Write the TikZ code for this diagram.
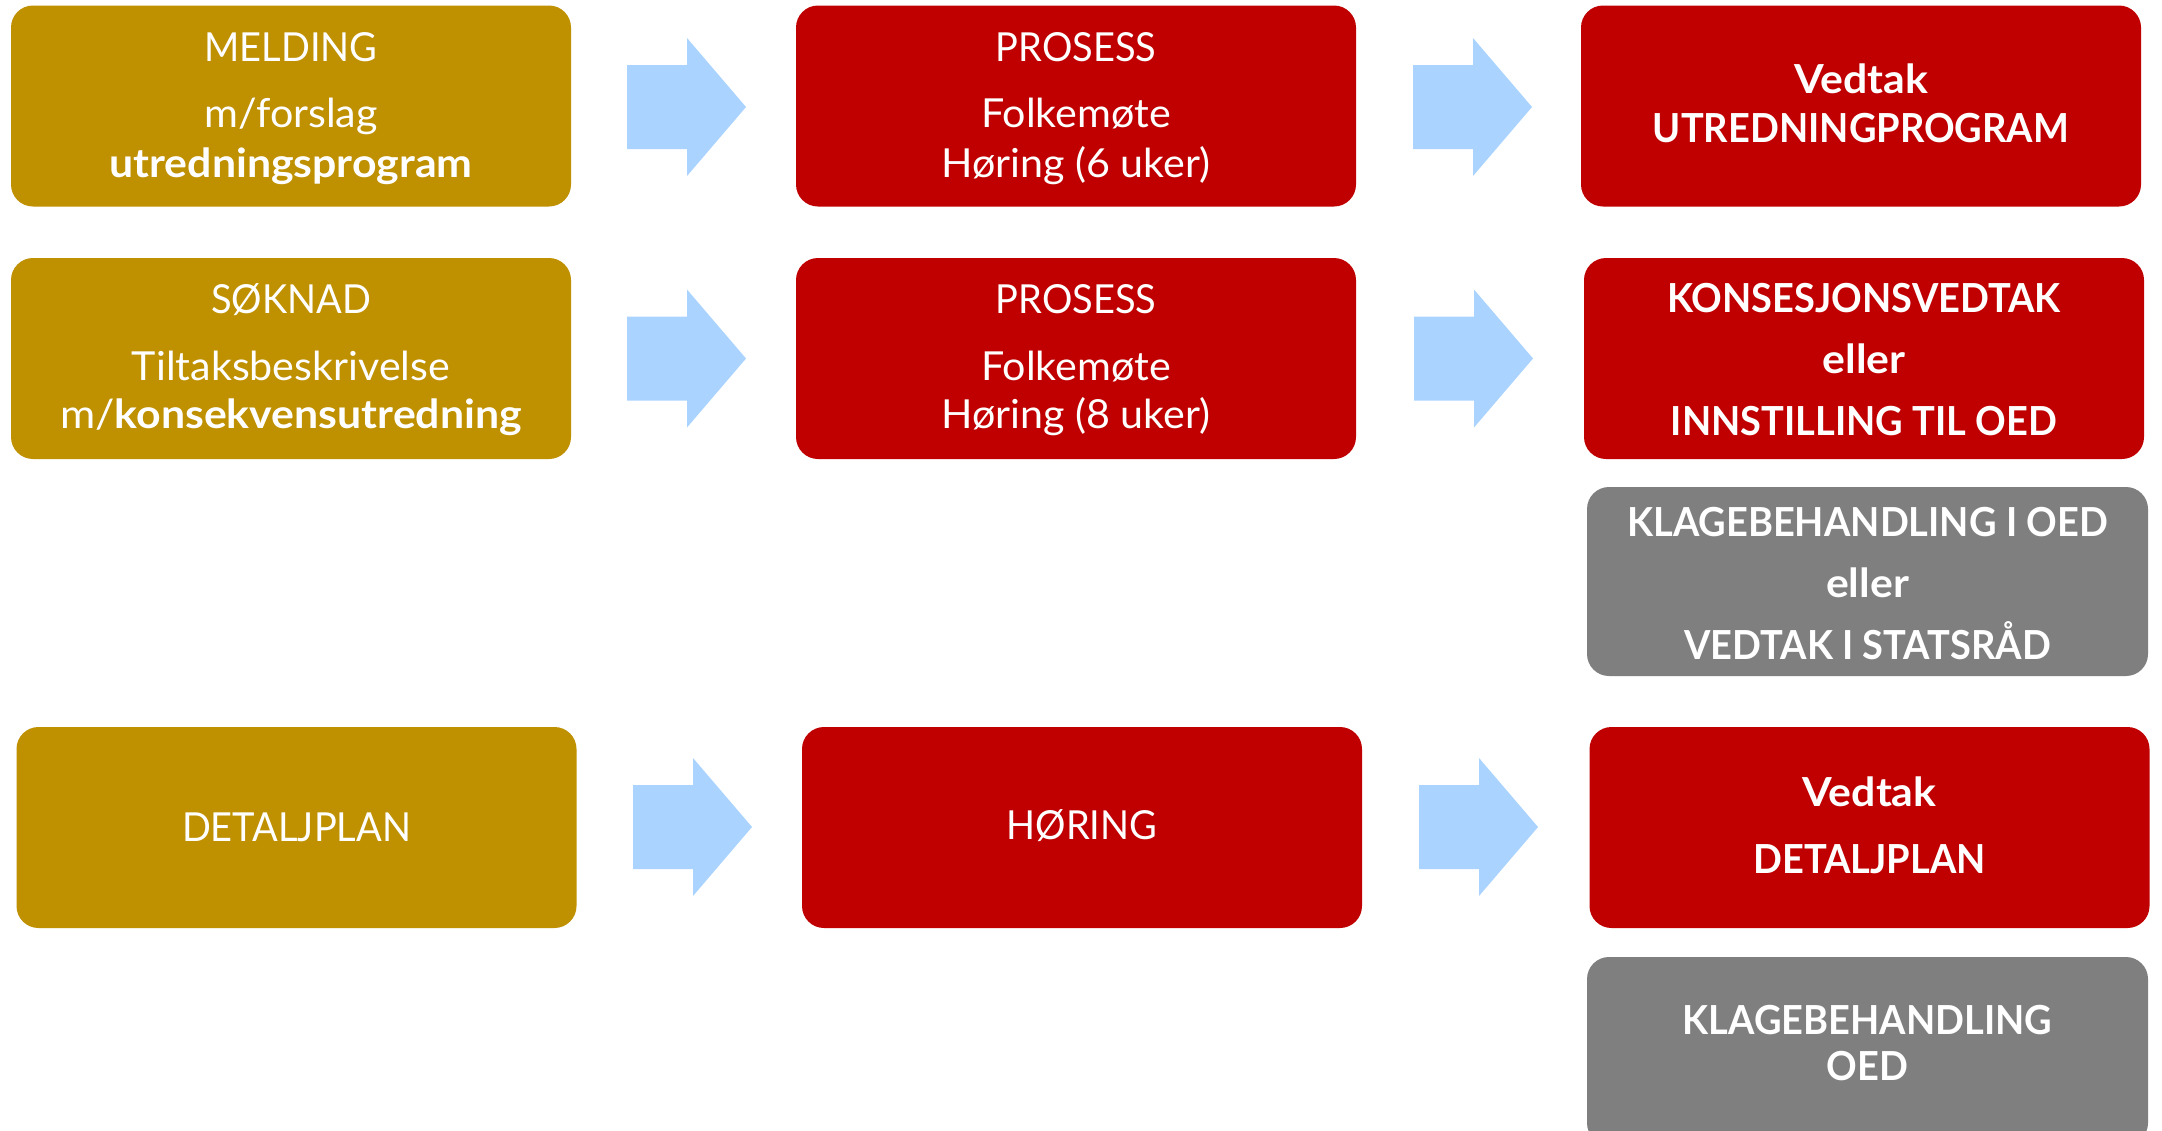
\documentclass[tikz,border=0pt]{standalone}
\usepackage{fontspec}
\setmainfont{Lato}
\newfontfamily\capsfont{Lato}[FakeStretch=0.95]
\newfontfamily\widefont{Lato}[FakeStretch=1.07]
\newfontfamily\midfont{Lato}[FakeStretch=1.03]
\usetikzlibrary{calc}
\definecolor{gold}{RGB}{191,144,0}
\definecolor{dred}{RGB}{192,0,0}
\definecolor{gbox}{RGB}{127,127,127}
\definecolor{lblue}{RGB}{170,212,255}
\tikzset{
  stagebox/.style={rounded corners=11pt, minimum width=280pt, minimum height=100.5pt, inner sep=0pt, draw=none},
  goldbox/.style={stagebox, fill=gold},
  redbox/.style={stagebox, fill=dred},
  greybox/.style={stagebox, fill=gbox, minimum width=280.5pt},
  regtxt/.style={text=white, font=\fontsize{20}{24}\selectfont\midfont, anchor=base, inner sep=0pt},
  captxt/.style={regtxt, font=\fontsize{20}{24}\selectfont\capsfont},
  bldtxt/.style={regtxt, font=\fontsize{20}{24}\selectfont\capsfont\bfseries},
  bldlow/.style={regtxt, font=\fontsize{20}{24}\selectfont\widefont\bfseries},
  pics/blockarrow/.style={code={\fill[lblue] (0,-42) -- (60,-42) -- (60,-69) -- (119,0) -- (60,69) -- (60,42) -- (0,42) -- cycle;}}
}
\begin{document}
\begin{tikzpicture}[x=0.5pt,y=-0.5pt]
\clip (0,0) rectangle (2162,1130);
\fill[white] (0,0) rectangle (2162,1130);
% row 1
\node[goldbox] (a1) at (291,106) {};
\node[redbox]  (b1) at (1076,106) {};
\node[redbox]  (c1) at (1861,106) {};
\node[captxt] (a1l1) at ($(a1.north)+(0,56.5)$) {MELDING};
\node[regtxt] (a1l2) at ($(a1.north)+(0,122.5)$) {m/forslag};
\node[bldlow] (a1l3) at ($(a1.north)+(0,172.5)$) {utredningsprogram};
\node[captxt] (b1l1) at ($(b1.north)+(0,56.5)$) {PROSESS};
\node[regtxt] (b1l2) at ($(b1.north)+(0,122.5)$) {Folkemøte};
\node[regtxt] (b1l3) at ($(b1.north)+(0,172.5)$) {Høring (6 uker)};
\node[bldlow] (c1l1) at ($(c1.north)+(0,88.5)$) {Vedtak};
\node[bldtxt] (c1l2) at ($(c1.north)+(0,137.5)$) {UTREDNINGPROGRAM};
\pic (ar1) at (627,107) {blockarrow};
\pic (ar2) at (1413,107) {blockarrow};
% row 2
\node[goldbox] (a2) at (291,358.5) {};
\node[redbox]  (b2) at (1076,358.5) {};
\node[redbox]  (c2) at (1864,358.5) {};
\node[captxt] (a2l1) at ($(a2.north)+(0,56)$) {SØKNAD};
\node[regtxt] (a2l2) at ($(a2.north)+(0,122.5)$) {Tiltaksbeskrivelse};
\node[regtxt, font=\fontsize{20}{24}\selectfont\widefont] (a2l3) at ($(a2.north)+(0,171)$) {m/\textbf{konsekvensutredning}};
\node[captxt] (b2l1) at ($(b2.north)+(0,56)$) {PROSESS};
\node[regtxt] (b2l2) at ($(b2.north)+(0,122.5)$) {Folkemøte};
\node[regtxt] (b2l3) at ($(b2.north)+(0,171)$) {Høring (8 uker)};
\node[bldtxt] (c2l1) at ($(c2.north)+(0,55)$) {KONSESJONSVEDTAK};
\node[bldlow] (c2l2) at ($(c2.north)+(0,116)$) {eller};
\node[bldtxt] (c2l3) at ($(c2.north)+(0,178)$) {INNSTILLING TIL OED};
\pic (ar3) at (627,358.5) {blockarrow};
\pic (ar4) at (1414,358.5) {blockarrow};
% grey 1
\node[greybox, minimum height=94.5pt] (g1) at (1867.5,581.5) {};
\node[bldtxt] (g1l1) at ($(g1.north)+(0,50)$) {KLAGEBEHANDLING I OED};
\node[bldlow] (g1l2) at ($(g1.north)+(0,111)$) {eller};
\node[bldtxt] (g1l3) at ($(g1.north)+(0,173)$) {VEDTAK I STATSRÅD};
% row 3
\node[goldbox] (a3) at (296.5,827.5) {};
\node[redbox]  (b3) at (1082,827.5) {};
\node[redbox]  (c3) at (1869.5,827.5) {};
\node[captxt] (a3l1) at ($(a3.north)+(0,115)$) {DETALJPLAN};
\node[captxt] (b3l1) at ($(b3.north)+(0,113)$) {HØRING};
\node[bldlow] (c3l1) at ($(c3.north)+(0,80)$) {Vedtak};
\node[bldtxt] (c3l2) at ($(c3.north)+(0,147)$) {DETALJPLAN};
\pic (ar5) at (633,827) {blockarrow};
\pic (ar6) at (1419,827) {blockarrow};
% grey 2
\node[greybox, minimum height=94pt] (g2) at (1867.5,1051) {};
\node[bldtxt] (g2l1) at ($(g2.north)+(0,78)$) {KLAGEBEHANDLING};
\node[bldtxt] (g2l2) at ($(g2.north)+(0,124)$) {OED};
\end{tikzpicture}
\end{document}
